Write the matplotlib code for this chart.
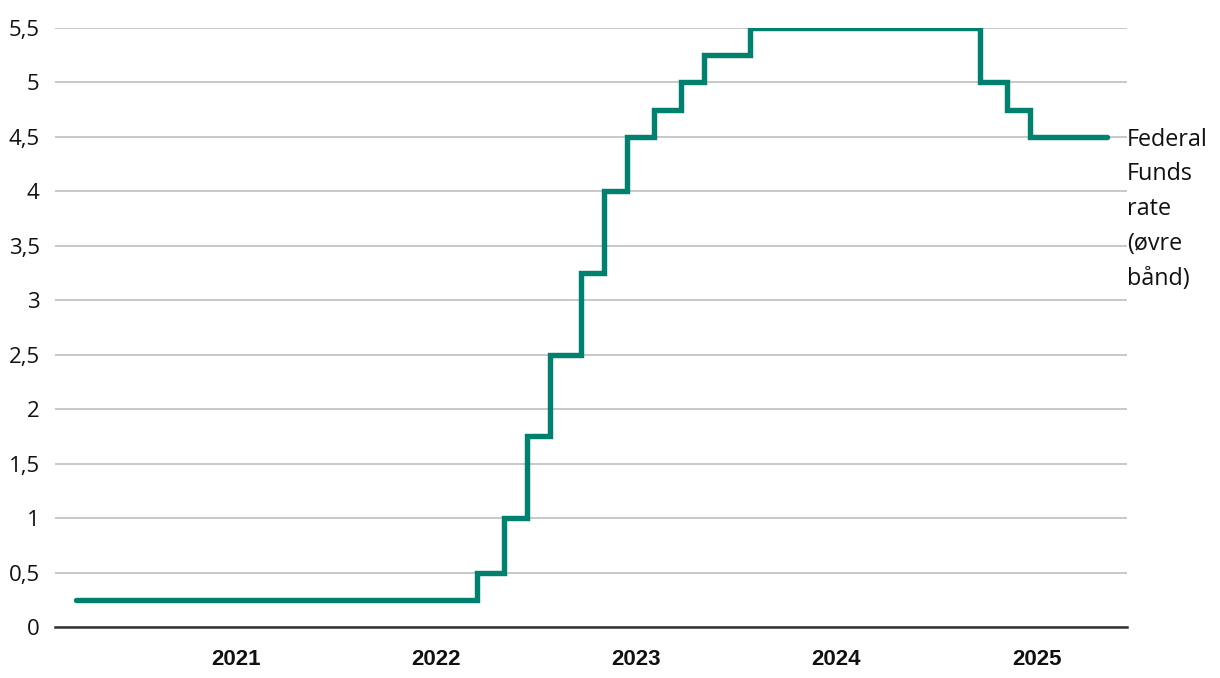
import datetime as dt
import matplotlib
matplotlib.use("Agg")
import matplotlib.pyplot as plt

# Fed funds target range, upper bound (percent) - change dates
dates = ["2020-03-16", "2022-03-17", "2022-05-05", "2022-06-16", "2022-07-28",
         "2022-09-22", "2022-11-03", "2022-12-15", "2023-02-02", "2023-03-23",
         "2023-05-04", "2023-07-27", "2024-09-19", "2024-11-08", "2024-12-19",
         "2025-05-08"]
rate = [0.25, 0.5, 1.0, 1.75, 2.5, 3.25, 4.0, 4.5, 4.75, 5.0, 5.25, 5.5,
        5.0, 4.75, 4.5, 4.5]
years = [2021, 2022, 2023, 2024, 2025]
yticks = [0, 0.5, 1, 1.5, 2, 2.5, 3, 3.5, 4, 4.5, 5, 5.5]
series_label = "Federal\nFunds\nrate\n(øvre\nbånd)"

x = [dt.datetime.strptime(d, "%Y-%m-%d") for d in dates]

fig = plt.figure(figsize=(12.2, 6.78), dpi=100)
ax = fig.add_axes([55/1220, 1-627/678, (1127-55)/1220, (627-28)/678])

ax.plot(x, rate, drawstyle="steps-post", color="#00806e", lw=3.9,
        solid_capstyle="round", solid_joinstyle="miter", zorder=3)

ax.set_ylim(0, 5.5)
ax.set_xlim(dt.datetime(2020, 2, 6), dt.datetime(2025, 6, 14))
ax.set_yticks(yticks)
ax.set_yticklabels([f"{v:g}".replace(".", ",") for v in yticks],
                   fontfamily="Open Sans", fontsize=16, color="#111111")
ax.set_xticks([dt.datetime(y, 1, 1) for y in years])
ax.set_xticklabels([str(y) for y in years], fontfamily="Liberation Sans",
                   fontweight="bold", fontsize=16, color="#111111")
ax.tick_params(axis="y", length=0, pad=11)
ax.tick_params(axis="x", length=0, pad=16)

ax.grid(axis="y", color="#c4c4c4", lw=1.3)
ax.set_axisbelow(True)
for s in ["top", "right", "left"]:
    ax.spines[s].set_visible(False)
ax.spines["bottom"].set_color("#333333")
ax.spines["bottom"].set_linewidth(1.8)
ax.spines["bottom"].set_zorder(4)

# series label to the right, first line level with the last value
ax.text(1.0, rate[-1] + 0.085, series_label, transform=ax.get_yaxis_transform(),
        ha="left", va="top", fontfamily="Open Sans", fontsize=16.8,
        linespacing=1.6, color="#111111", clip_on=False)

fig.savefig("out.png", dpi=100, facecolor="white")
